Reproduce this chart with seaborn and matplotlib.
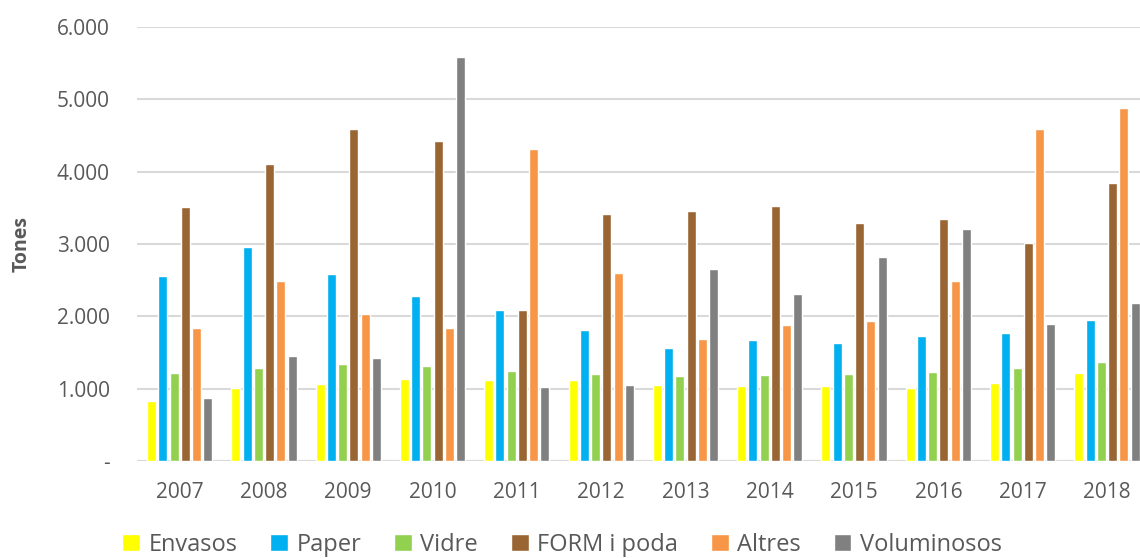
import matplotlib
matplotlib.use("Agg")
import matplotlib.pyplot as plt
import matplotlib.ticker as mticker
import seaborn as sns
import pandas as pd

# tones per year and waste stream
years = ["2007", "2008", "2009", "2010", "2011", "2012",
         "2013", "2014", "2015", "2016", "2017", "2018"]
envasos = [830, 1010, 1070, 1130, 1120, 1120, 1045, 1035, 1035, 1005, 1080, 1210]
paper = [2560, 2965, 2585, 2285, 2090, 1815, 1560, 1670, 1630, 1735, 1765, 1945]
vidre = [1220, 1285, 1340, 1315, 1245, 1205, 1170, 1195, 1200, 1230, 1280, 1375]
form_poda = [3505, 4110, 4590, 4425, 2090, 3420, 3450, 3520, 3290, 3345, 3010, 3845]
altres = [1835, 2485, 2030, 1835, 4315, 2595, 1690, 1875, 1940, 2495, 4595, 4885]
voluminosos = [870, 1450, 1430, 5590, 1025, 1050, 2650, 2310, 2825, 3210, 1890, 2180]

series_names = ["Envasos", "Paper", "Vidre", "FORM i poda", "Altres", "Voluminosos"]
colors = ["#FFFF00", "#00B0F0", "#92D050", "#996633", "#F79646", "#808080"]


def main():
    df = pd.DataFrame({
        "Any": years,
        "Envasos": envasos,
        "Paper": paper,
        "Vidre": vidre,
        "FORM i poda": form_poda,
        "Altres": altres,
        "Voluminosos": voluminosos,
    })
    long_df = df.melt(id_vars="Any", var_name="Tipus", value_name="Tones")

    sns.set_theme(style="white")
    plt.rcParams["font.family"] = ["Open Sans", "DejaVu Sans"]
    text_col = "#595959"

    fig = plt.figure(figsize=(11.4, 5.58), dpi=100)
    ax = fig.add_axes([0.1206, 0.1738, 0.8874, 0.7778])

    sns.barplot(data=long_df, x="Any", y="Tones", hue="Tipus",
                hue_order=series_names, palette=colors,
                width=0.8, gap=0.2, saturation=1, ax=ax, zorder=3)

    ax.set_ylim(0, 6000)
    ax.set_yticks(range(0, 6001, 1000))
    ax.yaxis.set_major_formatter(mticker.FuncFormatter(
        lambda v, p: "-" if v == 0 else f"{v:,.0f}".replace(",", ".")))
    ax.grid(axis="y", color="#D9D9D9", linewidth=1.5, zorder=0)
    ax.set_axisbelow(True)
    for s in ["top", "right", "left", "bottom"]:
        ax.spines[s].set_visible(False)
    ax.axhline(0, color="#D9D9D9", linewidth=1.5, zorder=2)

    ax.tick_params(axis="y", length=0, pad=20, labelsize=15, labelcolor=text_col)
    ax.tick_params(axis="x", length=0, pad=15, labelsize=15, labelcolor=text_col)
    ax.set_xlabel("")
    ax.set_ylabel("Tones", fontsize=14, fontweight="bold", color=text_col)
    ax.yaxis.set_label_coords(-0.105, 0.5)

    handles, labels = ax.get_legend_handles_labels()
    ax.get_legend().remove()
    fig.legend(handles, labels, loc="center", ncol=6,
               bbox_to_anchor=(562 / 1140, 1 - 545 / 558),
               frameon=False, fontsize=17, labelcolor=text_col,
               handlelength=0.75, handleheight=0.75, handletextpad=0.35,
               columnspacing=1.4, borderaxespad=0)

    fig.savefig("out.png", dpi=100)


if __name__ == '__main__':
    main()
